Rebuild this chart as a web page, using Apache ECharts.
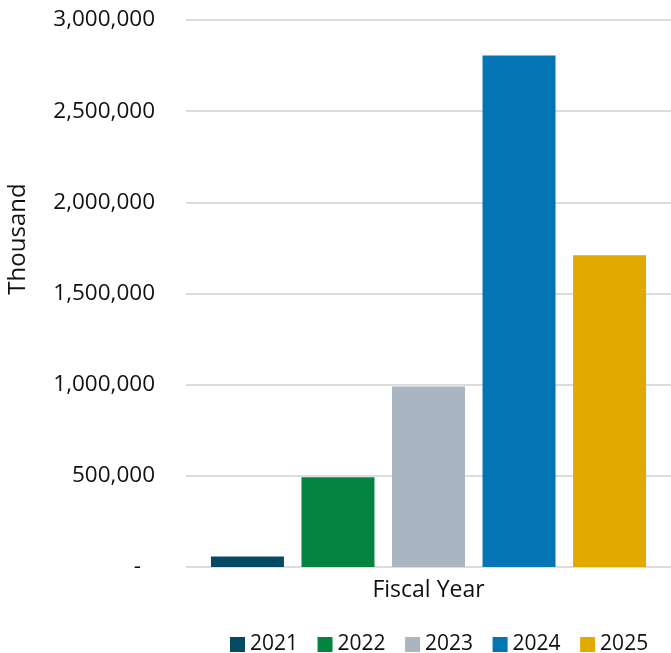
<!DOCTYPE html>
<html>
<head>
<meta charset="utf-8">
<style>
  html, body { margin: 0; padding: 0; background: #fff; }
  #chart { width: 671px; height: 653px; }
</style>
<script src="https://cdn.jsdelivr.net/npm/echarts@6/dist/echarts.min.js"></script>
</head>
<body>
<div id="chart"></div>
<script>
// Fiscal-year totals (in thousands)
const categories = ['Fiscal Year'];
const years = ['2021', '2022', '2023', '2024', '2025'];
const values = [58000, 492000, 990000, 2805000, 1710000];
const colors = ['#034a63', '#038540', '#a9b6c1', '#0374b4', '#e2aa00'];
const yTicks = { min: 0, max: 3000000, interval: 500000 };

const FONT = '"Open Sans", "Noto Sans", sans-serif';
const TEXT = '#111';

const chart = echarts.init(document.getElementById('chart'), null, { renderer: 'canvas' });

const series = years.map((y, i) => ({
  name: y,
  type: 'bar',
  data: [values[i]],
  barWidth: 73,
  barGap: '24%',
  itemStyle: { color: colors[i] }
}));

chart.setOption({
  animation: false,
  textStyle: { fontFamily: FONT },
  grid: { left: 186, width: 489, top: 20, bottom: 86, containLabel: false },
  legend: {
    data: years,
    left: 225,
    top: 629,
    itemWidth: 15,
    itemHeight: 15,
    itemGap: 19.5,
    icon: 'rect',
    textStyle: { fontFamily: FONT, fontSize: 21, color: TEXT }
  },
  xAxis: {
    type: 'category',
    data: categories,
    axisLine: { show: false },
    axisTick: { show: false },
    axisLabel: { fontFamily: FONT, fontSize: 23, color: TEXT, margin: 12 }
  },
  yAxis: {
    type: 'value',
    min: yTicks.min,
    max: yTicks.max,
    interval: yTicks.interval,
    axisLine: { show: false },
    axisTick: { show: false },
    splitLine: { lineStyle: { color: '#dcdcdc', width: 2 } },
    axisLabel: {
      fontFamily: FONT,
      fontSize: 22.5,
      color: TEXT,
      margin: 31,
      formatter: v => v === 0 ? '{dash|-}' : v.toLocaleString('en-US'),
      rich: { dash: { fontFamily: FONT, fontSize: 22.5, color: TEXT, padding: [0, 14, 0, 0] } }
    }
  },
  graphic: [{
    type: 'text',
    x: 18,
    y: 239,
    rotation: Math.PI / 2,
    style: {
      text: 'Thousand',
      font: '24px ' + FONT,
      fill: TEXT,
      align: 'center',
      verticalAlign: 'middle'
    }
  }],
  series: series
});
</script>
</body>
</html>
